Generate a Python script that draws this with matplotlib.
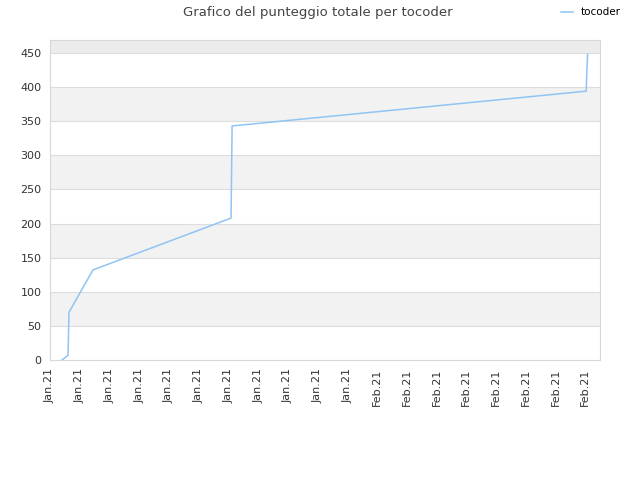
import matplotlib
matplotlib.use("Agg")
import matplotlib.pyplot as plt
import matplotlib.dates as mdates
import pandas as pd

dates = ["2021-01-02 05:00", "2021-01-02 19:40", "2021-01-02 22:00",
         "2021-01-05 08:00", "2021-01-19 06:30", "2021-01-19 09:00",
         "2021-02-24 02:30", "2021-02-24 04:00", "2021-02-24 06:00"]
scores = [0, 7, 70, 132, 208, 343, 394, 420, 448]
tick_dates = pd.date_range("2021-01-01", periods=19, freq="3D")

x = pd.to_datetime(dates)
line_color = '#90c4f4'

fig = plt.figure(figsize=(6.4, 4.8), dpi=100)
ax = fig.add_axes([50/640, 120/480, 550/640, 320/480])

ymax = 469
for lo in [50, 150, 250, 350]:
    ax.axhspan(lo, lo + 50, color='#f2f2f2', zorder=0, lw=0)
ax.axhspan(450, ymax, color='#ececec', zorder=0, lw=0)
for yv in range(50, 451, 50):
    ax.axhline(yv, color='#dddddd', lw=0.8, zorder=1)

ax.plot(x, scores, color=line_color, lw=1.1, zorder=3, label='tocoder')

ax.set_xlim(pd.Timestamp("2021-01-01"), pd.Timestamp("2021-02-25 12:00"))
ax.set_ylim(0, ymax)
ax.set_yticks(range(0, 451, 50))
ax.set_xticks(tick_dates)
ax.xaxis.set_major_formatter(mdates.DateFormatter("%b.%y"))
ax.tick_params(axis='x', labelrotation=90, length=0, labelsize=8, colors='#333333', pad=6)
ax.tick_params(axis='y', length=0, labelsize=8, colors='#333333', pad=6)
for s in ax.spines.values():
    s.set_color('#d8d8d8')

fig.text(0.497, 0.988, 'Grafico del punteggio totale per tocoder', ha='center', va='top',
         fontsize=9.5, color='#444444')
lg = fig.legend(loc='upper right', bbox_to_anchor=(0.985, 1.004), frameon=False,
                fontsize=7.5, handlelength=1.1, handletextpad=0.8)

plt.savefig('out.png', dpi=100)
